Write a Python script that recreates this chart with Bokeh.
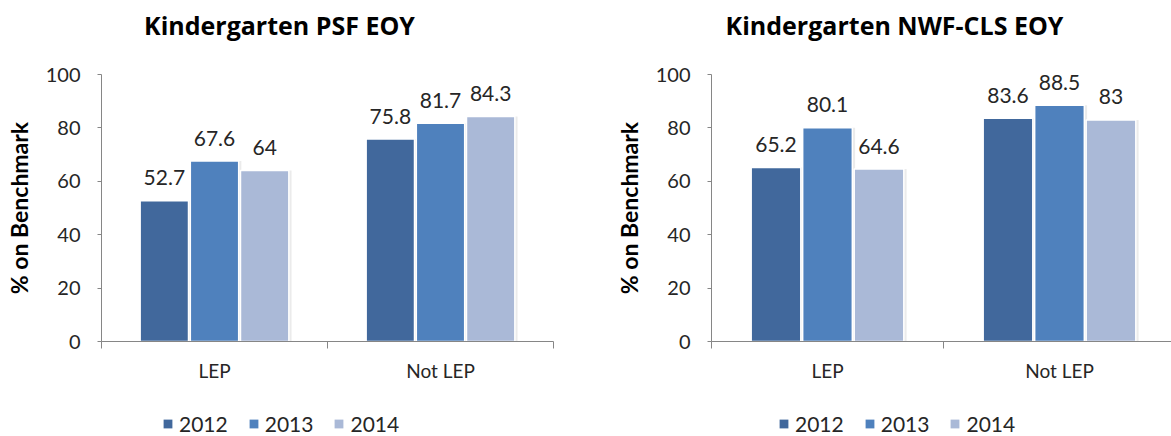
from bokeh.plotting import figure
from bokeh.models import ColumnDataSource, FixedTicker, Legend, LegendItem, Range1d
from bokeh.layouts import row, column
from bokeh.transform import dodge
from bokeh.core.properties import value
from bokeh.embed import file_html
from bokeh.resources import INLINE

titles = ["Kindergarten PSF EOY", "Kindergarten NWF-CLS EOY"]
categories = ["LEP", "Not LEP"]
years = ["2012", "2013", "2014"]
psf_2012 = [52.7, 75.8]
psf_2013 = [67.6, 81.7]
psf_2014 = [64.0, 84.3]
nwf_2012 = [65.2, 83.6]
nwf_2013 = [80.1, 88.5]
nwf_2014 = [64.6, 83.0]
y_ticks = [0, 20, 40, 60, 80, 100]
colors = ["#41689C", "#4F81BD", "#AAB9D7"]

FONT = "Lato"
AXIS_COLOR = "#868686"
TEXT_COLOR = "#262626"
W = 1171


def make_chart(series, frame_w, x_end, border_left, border_right):
    xs = [i + 0.5 for i in range(len(categories))]
    data = dict(x=xs)
    for yr, vals in zip(years, series):
        data["v" + yr] = vals
        data["l" + yr] = [f"{v:g}" for v in vals]
    src = ColumnDataSource(data)

    p = figure(frame_width=frame_w, frame_height=267,
               min_border_left=border_left, min_border_right=border_right,
               min_border_top=12, min_border_bottom=68,
               x_range=Range1d(0, x_end), y_range=Range1d(0, 100),
               output_backend="svg", toolbar_location=None)
    p.outline_line_color = None
    p.xgrid.visible = False
    p.ygrid.visible = False

    offsets = [-0.222, 0.0, 0.222]
    for yr, off, c in zip(years, offsets, colors):
        # faint shadow
        p.vbar(x=dodge("x", off + 0.012), top="v" + yr, width=0.214, bottom=0,
               source=src, fill_color="#000000", fill_alpha=0.08, line_color=None)
        p.vbar(x=dodge("x", off), top="v" + yr, width=0.214, bottom=0,
               source=src, fill_color=c, line_color="white", line_width=1.5)
        p.text(x=dodge("x", off), y="v" + yr, text="l" + yr, source=src,
               text_align="center", text_baseline="middle", y_offset=-23,
               text_font=value(FONT), text_font_size="21px", text_color=TEXT_COLOR)

    # y axis
    ya = p.yaxis[0]
    ya.ticker = FixedTicker(ticks=y_ticks)
    ya.axis_line_color = AXIS_COLOR
    ya.major_tick_line_color = AXIS_COLOR
    ya.major_tick_in = 0
    ya.major_tick_out = 4
    ya.minor_tick_line_color = None
    ya.major_label_standoff = 17
    ya.major_label_text_font = FONT
    ya.major_label_text_font_size = "20px"
    ya.major_label_text_color = TEXT_COLOR
    ya.axis_label = "% on Benchmark"
    ya.axis_label_text_font = FONT
    ya.axis_label_text_font_size = "23px"
    ya.axis_label_text_font_style = "bold"
    ya.axis_label_text_color = "black"
    ya.axis_label_standoff = 10

    # x axis
    xa = p.xaxis[0]
    xa.ticker = FixedTicker(ticks=xs, minor_ticks=[0, 1, 2])
    xa.major_label_overrides = {x: c for x, c in zip(xs, categories)}
    xa.axis_line_color = AXIS_COLOR
    xa.major_tick_line_color = None
    xa.minor_tick_line_color = AXIS_COLOR
    xa.minor_tick_in = 0
    xa.minor_tick_out = 7
    xa.major_label_standoff = 10
    xa.major_label_text_font = FONT
    xa.major_label_text_font_size = "19px"
    xa.major_label_text_color = TEXT_COLOR
    return p


def strip(height):
    f = figure(width=W, height=height, x_range=Range1d(0, W), y_range=Range1d(0, height),
               min_border=0, output_backend="svg", toolbar_location=None)
    f.axis.visible = False
    f.grid.visible = False
    f.outline_line_color = None
    return f


# title strip above the charts
tf = strip(62)
tf.text(x=[279, 894], y=[38, 38], text=titles, text_align="center", text_baseline="middle",
        text_font=value("Open Sans"), text_font_size="25px", text_font_style="bold",
        text_color="black")

p1 = make_chart([psf_2012, psf_2013, psf_2014], 452, 2.0, 101, 27)
p2 = make_chart([nwf_2012, nwf_2013, nwf_2014], 460, 460 / 232, 131, 0)

# legend strip below both charts
lf = strip(27)
swatches = [lf.vbar(x=[0], top=[0], bottom=0, width=1, fill_color=c, line_color=None)
            for c in colors]
for lx in (162, 778):
    leg = Legend(items=[LegendItem(label=yr, renderers=[r]) for yr, r in zip(years, swatches)],
                 orientation="horizontal", location=(lx, 0),
                 border_line_color=None, background_fill_alpha=0,
                 padding=0, margin=0, spacing=20, label_standoff=6,
                 glyph_width=11, glyph_height=11,
                 label_text_font=FONT, label_text_font_size="21px",
                 label_text_color=TEXT_COLOR)
    lf.add_layout(leg)

layout = column(tf, row(p1, p2), lf)
open("out.html", "w").write(file_html(layout, INLINE))
